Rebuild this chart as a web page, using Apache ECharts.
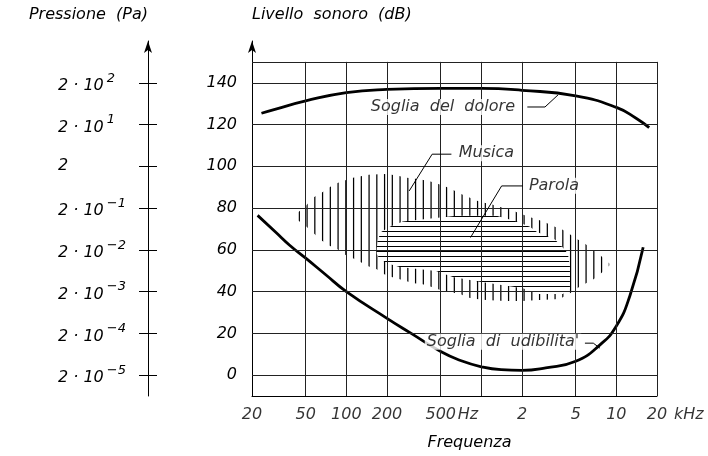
<!DOCTYPE html>
<html><head><meta charset="utf-8">
<script src="https://cdn.jsdelivr.net/npm/echarts@6/dist/echarts.min.js"></script>
<style>html,body{margin:0;padding:0;background:#fff}#c{width:708px;height:456px}</style>
</head><body><div id="c"></div>
<script>
// ---------- data ----------
const xGridFreqs = [50, 100, 200, 500, 1000, 2000, 5000, 10000, 20000];
const xTickFreqs = [20, 50, 100, 200, 500, 2000, 5000, 10000, 20000];
const xTickLabels = ['20', '50', '100', '200', '500', '2', '5', '10', '20'];
const xUnitFreqs = [500, 20000];
const xUnitLabels = ['Hz', 'kHz'];
const dbTicks = [0, 20, 40, 60, 80, 100, 120, 140];
const pressureBase = ['2 · 10', '2 · 10', '2 · 10', '2 · 10', '2 · 10', '2', '2 · 10', '2 · 10'];
const pressureExp = ['−5', '−4', '−3', '−2', '−1', '', '1', '2'];

const painThreshold = [[23.5,125.4],[30,127.4],[50,131.3],[100,135.3],[200,136.8],[500,137.3],[1000,137.3],[2000,136.4],[5000,133.7],[10000,128.2],[14000,123],[17500,118.5]];
const hearingThreshold = [[22,76.5],[30,68.4],[38,62.2],[50,56],[70,48.2],[100,40],[200,27.2],[300,20.1],[500,11.3],[700,7],[1000,4],[1400,2.6],[2000,2.3],[3000,3.5],[5000,6.6],[7560,14.5],[10000,23.5],[12600,38],[15800,61.2]];

const musicUpper = [[44,78],[50,81],[57,85],[66,87.5],[75,90],[86,92],[97,93.2],[112,94.5],[128,95.2],[147,96],[190,96.3],[217,96],[245,95.4],[280,94.5],[316,94.1],[362,93.5],[408,93],[468,91.8],[536,90.4],[604,89],[692,87],[793,85.4],[893,83.8],[1023,82.7],[1173,81.9],[1321,80.8],[1514,80],[1735,78.6],[1954,77.3],[2242,75.8],[2570,74.6],[2900,73.4],[3500,71],[4000,69.6],[4580,67.2],[5220,64.8],[5960,62.5],[6820,59.7],[7780,56.8],[8860,53.5]];
const musicLower = [[44,74],[50,71.4],[57,68],[66,64.4],[75,62],[86,60.3],[97,57.8],[112,56],[128,54],[147,52],[168,50.7],[189,48.4],[217,47],[245,46],[280,45],[316,44],[362,43.6],[408,42.7],[468,41.3],[536,40],[604,39.6],[692,39],[793,37.2],[893,36.6],[1023,36.1],[1173,35.8],[1500,35.5],[2000,35.5],[2700,36],[3800,36.5],[4600,39.5],[5220,42],[5960,44],[6820,46],[7780,49],[8860,52.5]];
const speechUpper = [[168,60.5],[171,65],[181,68.5],[210,71],[262,73.6],[655,76.3],[1297,76.3],[1824,73.6],[2289,71],[2566,68.6],[2956,67],[3508,65],[4157,60],[4379,58],[4530,52]];
const speechLower = [[168,58],[176,55.7],[203,53.5],[248,51.8],[462,49.8],[615,47],[975,44.7],[2031,41.6],[2622,38.9],[4019,38.9],[4530,41.5]];

const annotationTexts = ['Soglia  del  dolore', 'Musica', 'Parola', "Soglia  di  udibilita'"];
const annotationAnchors = [[146.6,128.4],[657,106.3],[2174,90.7],[381,16]];
const leaderPain = [[2190,128.4],[2960,128.4],[3700,134.2]];
const leaderMusic = [[600,105.8],[432,105.8],[292,88.2]];
const leaderSpeech = [[2030,90.6],[1413,90.6],[831,65.9]];
const leaderHearing = [[5850,15.3],[6750,15.3],[7560,12.9]];

// ---------- styling helpers ----------
const FONT = 'DejaVu Sans';
const txt = {fontFamily: FONT, fontStyle: 'italic', fontSize: 16, color: '#000'};

function makeHatch(w, h, vertical, positions, thick) {
  const c = document.createElement('canvas');
  c.width = w; c.height = h;
  const ctx = c.getContext('2d');
  ctx.fillStyle = '#fff'; ctx.fillRect(0, 0, w, h);
  ctx.fillStyle = '#000';
  positions.forEach(p => vertical ? ctx.fillRect(p, 0, thick, h) : ctx.fillRect(0, p, w, thick));
  return c;
}
const musicHatch = makeHatch(31, 8, true, [4.2, 11.95, 19.7, 27.45], 1.25);
const speechHatch = makeHatch(8, 5, false, [1], 1);

const musicPolygon = musicUpper.concat(musicLower.slice().reverse());
const speechPolygon = speechUpper.concat(speechLower.slice().reverse());

function makeRenderer(points, hatch) {
  return function (params, api) {
    if (params.dataIndex !== 0) return null;
    const pts = points.map(p => api.coord(p));
    return {type: 'polygon', shape: {points: pts}, style: {fill: {image: hatch, repeat: 'repeat'}, stroke: null}};
  };
}

const gridLines = [];
dbTicks.forEach(v => gridLines.push({yAxis: v}));
gridLines.push({yAxis: 150});
xGridFreqs.forEach(f => gridLines.push([{coord: [f, -10]}, {coord: [f, 150]}]));

const lineLead = d => ({type: 'line', data: d, symbol: 'none', z: 5, silent: true,
  lineStyle: {color: '#000', width: 1}, animation: false});

const option = {
  animation: false,
  backgroundColor: '#fff',
  grid: {left: 252, right: 51, top: 41, bottom: 54, containLabel: false},
  xAxis: {
    type: 'log', logBase: 10, min: 20, max: 20000,
    axisLine: {show: true, onZero: false, lineStyle: {color: '#000', width: 1}},
    axisTick: {show: false}, axisLabel: {show: false}, splitLine: {show: false},
    name: 'Frequenza', nameLocation: 'middle', nameGap: 39,
    nameTextStyle: Object.assign({}, txt, {padding: [0, 0, 0, 30]})
  },
  yAxis: [
    {
      type: 'value', min: -10, max: 160, interval: 10, position: 'left',
      axisLine: {show: true, onZero: false, symbol: ['none', 'arrow'], symbolSize: [6, 12], lineStyle: {color: '#000', width: 1}},
      axisTick: {show: false}, splitLine: {show: false},
      axisLabel: Object.assign({}, txt, {customValues: dbTicks, margin: 15,
        formatter: v => dbTicks.indexOf(v) >= 0 ? String(v) : ''}),
      name: 'Livello  sonoro  (dB)', nameLocation: 'end', nameGap: 26,
      nameTextStyle: Object.assign({}, txt, {align: 'left', verticalAlign: 'middle'})
    },
    {
      type: 'value', min: -10, max: 160, interval: 10, position: 'left', offset: 104,
      axisLine: {show: true, onZero: false, symbol: ['none', 'arrow'], symbolSize: [6, 12], lineStyle: {color: '#000', width: 1}},
      axisTick: {show: true, inside: false, length: 9, customValues: dbTicks, lineStyle: {color: '#000', width: 1}},
      splitLine: {show: false},
      axisLabel: {customValues: dbTicks, margin: 90, align: 'left', color: '#000',
        formatter: v => {
          const i = dbTicks.indexOf(v);
          if (i < 0) return '';
          return pressureExp[i] ? '{b|' + pressureBase[i] + '}{e|' + pressureExp[i] + '}' : '{b|' + pressureBase[i] + '}';
        },
        rich: {
          b: {fontFamily: FONT, fontStyle: 'italic', fontSize: 16, color: '#000', verticalAlign: 'bottom'},
          e: {fontFamily: FONT, fontStyle: 'italic', fontSize: 13, color: '#000', verticalAlign: 'bottom', padding: [0, 0, 9, 3]}
        }
      },
      name: 'Pressione  (Pa)', nameLocation: 'end', nameGap: 26,
      nameTextStyle: Object.assign({}, txt, {align: 'right', verticalAlign: 'middle'})
    },
    {
      type: 'value', min: -10, max: 160, interval: 10, position: 'left', offset: 104,
      axisLine: {show: false, onZero: false},
      axisTick: {show: true, inside: true, length: 9, customValues: dbTicks, lineStyle: {color: '#000', width: 1}},
      splitLine: {show: false}, axisLabel: {show: false}
    }
  ],
  series: [
    {type: 'line', data: [], z: 1, silent: true,
      markLine: {silent: true, symbol: ['none', 'none'], label: {show: false}, animation: false,
        lineStyle: {color: '#222', width: 1, type: 'solid'}, emphasis: {disabled: true}, data: gridLines}},
    {type: 'custom', data: musicPolygon, z: 2, silent: true, encode: {x: 0, y: 1},
      renderItem: makeRenderer(musicPolygon, musicHatch)},
    {type: 'custom', data: speechPolygon, z: 3, silent: true, encode: {x: 0, y: 1},
      renderItem: makeRenderer(speechPolygon, speechHatch)},
    {type: 'line', data: painThreshold, smooth: 0.5, symbol: 'none', z: 4, silent: true,
      lineStyle: {color: '#000', width: 2.8}},
    {type: 'line', data: hearingThreshold, smooth: 0.5, symbol: 'none', z: 4, silent: true,
      lineStyle: {color: '#000', width: 2.8}},
    lineLead(leaderPain), lineLead(leaderMusic), lineLead(leaderSpeech), lineLead(leaderHearing),
    {type: 'scatter', data: annotationAnchors, symbolSize: 0, z: 6, silent: true, clip: false,
      label: Object.assign({}, txt, {show: true, position: 'right', distance: 0, backgroundColor: '#fff', padding: [0, 2],
        formatter: p => annotationTexts[p.dataIndex]})},
    {type: 'scatter', data: xTickFreqs.map(f => [f, -10]), symbolSize: 0, z: 6, silent: true, clip: false,
      label: Object.assign({}, txt, {show: true, position: 'bottom', distance: 11,
        formatter: p => xTickLabels[p.dataIndex]})},
    {type: 'scatter', data: xUnitFreqs.map(f => [f, -10]), symbolSize: 0, z: 6, silent: true, clip: false,
      label: Object.assign({}, txt, {show: true, position: 'bottom', distance: 11, align: 'left', offset: [17, 0],
        formatter: p => xUnitLabels[p.dataIndex]})}
  ]
};
const chart = echarts.init(document.getElementById('c'), null, {renderer: 'canvas'});
chart.setOption(option);
</script>
</body></html>
